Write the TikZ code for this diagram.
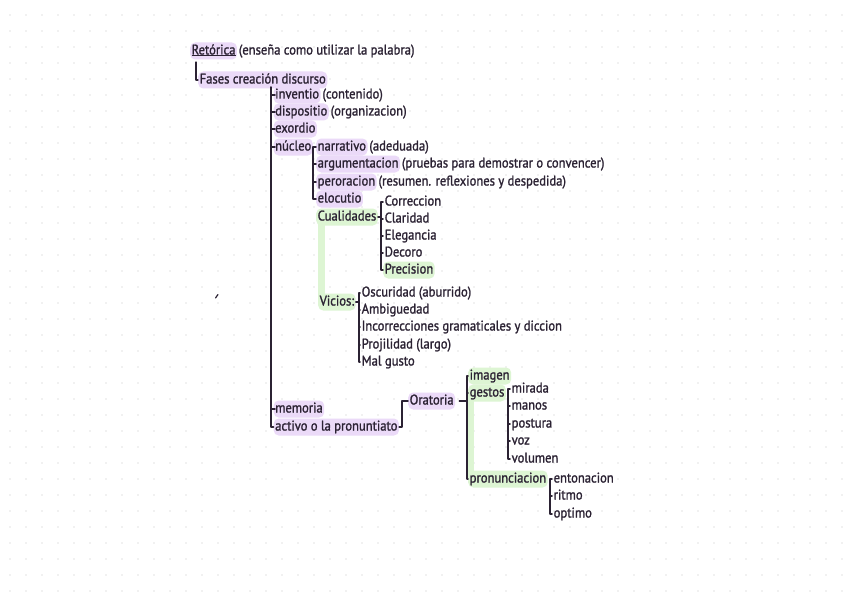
\documentclass[tikz,border=0pt]{standalone}
\usepackage{fontspec}
\setmainfont{PT Sans}[FakeStretch=0.9,FakeBold=1.4]
\usetikzlibrary{positioning}

\definecolor{ink}{HTML}{2B2233}
\definecolor{hlpurple}{HTML}{EBDAF8}
\definecolor{hlgreen}{HTML}{DDF5D3}
\definecolor{dotgray}{HTML}{E4E4E4}

\tikzset{
  t/.style={anchor=west,inner sep=1.5pt,text height=10.5pt,text depth=3.5pt,
    font=\fontsize{14}{16}\selectfont,text=ink},
  hp/.style={t,fill=hlpurple,rounded corners=5pt},
  hg/.style={t,fill=hlgreen,rounded corners=5pt},
  ln/.style={draw=ink,line width=1.5pt,line cap=round,line join=round}
}

\begin{document}
\begin{tikzpicture}[x=1pt,y=-1pt]
  \useasboundingbox[fill=white] (0,0) rectangle (848,599);
  % dotted paper
  \foreach \i in {0,...,52}{
    \foreach \j in {0,...,36}{
      \fill[dotgray] (10+16*\i,15+16*\j) circle (0.8);
    }
  }
  % title
  \node[hp] (ret) at (190,51) {Retórica};
  \node[t,anchor=base west] (retN) at (ret.base east) {(enseña como utilizar la palabra)};
  \draw[ink,line width=1pt] ([xshift=1.5pt,yshift=-1.5pt]ret.base west) -- ([xshift=-1.5pt,yshift=-1.5pt]ret.base east);
  \node[hp] (fas) at (198,80) {Fases creación discurso};
  \draw[ln,line width=1.2pt] (196,62) |- (fas.west);
  % first level
  \node[hp] (inv) at (273.5,95) {inventio};
  \node[t,anchor=base west] (invN) at (inv.base east) {(contenido)};
  \node[hp] (dis) at (273.5,112) {dispositio};
  \node[t,anchor=base west] (disN) at (dis.base east) {(organizacion)};
  \node[hp] (exo) at (273.5,129) {exordio};
  \node[hp] (nuc) at (273.5,147) {núcleo};
  \node[hp] (mem) at (273.5,409) {memoria};
  \node[hp] (act) at (273.5,427) {activo o la pronuntiato};
  \draw[ln] (271,87) |- (act.west);
  \foreach \n in {inv,dis,exo,nuc,mem}
    \draw[ln] (271,0 |- \n.west) -- ([xshift=1.5pt]\n.west);
  % nucleo
  \node[hp] (nar) at (316,147) {narrativo};
  \node[t,anchor=base west] (narN) at (nar.base east) {(adeduada)};
  \node[hp] (arg) at (316,164) {argumentacion};
  \node[t,anchor=base west] (argN) at (arg.base east) {(pruebas para demostrar o convencer)};
  \node[hp] (per) at (316,182) {peroracion};
  \node[t,anchor=base west] (perN) at (per.base east) {(resumen. reflexiones y despedida)};
  \node[hp] (elo) at (316,199) {elocutio};
  \draw[ln] (nuc.east) -- (nar.west);
  \draw[ln] (313,0 |- nar.west) |- (elo.west);
  \foreach \n in {arg,per}
    \draw[ln] (313,0 |- \n.west) -- (\n.west);
  % cualidades y vicios
  \fill[hlgreen] (318,210) rectangle (325,300);
  \node[hg] (cua) at (316,217) {Cualidades};
  \node[hg] (vic) at (318,302) {Vicios:};
  \node[t] (cor) at (383,202) {Correccion};
  \node[t] (cla) at (383,219) {Claridad};
  \node[t] (ele) at (383,236) {Elegancia};
  \node[t] (dec) at (383,253) {Decoro};
  \node[hg] (pre) at (383,270) {Precision};
  \draw[ln] (cor.west) -| (381,0 |- pre.west) -- (pre.west);
  \foreach \n in {cla,ele,dec}
    \draw[ln] (381,0 |- \n.west) -- (\n.west);
  \draw[ln] (cua.east) -- (381,0 |- cua.east);
  \node[t] (osc) at (360,293) {Oscuridad (aburrido)};
  \node[t] (amb) at (360,310) {Ambiguedad};
  \node[t] (inc) at (360,327) {Incorrecciones gramaticales y diccion};
  \node[t] (pro) at (360,345) {Projilidad (largo)};
  \node[t] (mal) at (360,362) {Mal gusto};
  \draw[ln] (osc.west) -| (359,0 |- mal.west) -- (mal.west);
  \foreach \n in {amb,inc,pro}
    \draw[ln] (359,0 |- \n.west) -- (\n.west);
  \draw[ln] (vic.east) -- (359,0 |- vic.east);
  % oratoria
  \node[hp] (ora) at (408,401) {Oratoria};
  \draw[ln] (act.east) -- (402,0 |- act.east) |- (ora.west);
  \fill[hlgreen] (468,393) rectangle (474,476);
  \node[hg] (img) at (468,376) {imagen};
  \node[hg] (ges) at (468,393) {gestos};
  \node[hg] (prn) at (468,479) {pronunciacion};
  \draw[ln] ([xshift=4pt]ora.east) -- (467,0 |- ora.east);
  \draw[ln] (img.west) -| (467,0 |- prn.west) -- (prn.west);
  \draw[ln] (467,0 |- ges.west) -- (ges.west);
  % gestos
  \node[t] (mir) at (510,389) {mirada};
  \node[t] (man) at (510,406) {manos};
  \node[t] (pos) at (510,424) {postura};
  \node[t] (voz) at (510,441) {voz};
  \node[t] (vol) at (510,459) {volumen};
  \draw[ln] (mir.west) -| (508,0 |- vol.west) -- (vol.west);
  \foreach \n in {man,pos,voz}
    \draw[ln] (508,0 |- \n.west) -- (\n.west);
  % pronunciacion
  \node[t] (ent) at (552,479) {entonacion};
  \node[t] (rit) at (552,496) {ritmo};
  \node[t] (opt) at (552,514) {optimo};
  \draw[ln] (ent.west) -| (550,0 |- opt.west) -- (opt.west);
  \draw[ln] (550,0 |- rit.west) -- (rit.west);
  % stray mark
  \draw[ln,line width=1.2pt] (215.5,298) -- (218,294.5);
\end{tikzpicture}
\end{document}
